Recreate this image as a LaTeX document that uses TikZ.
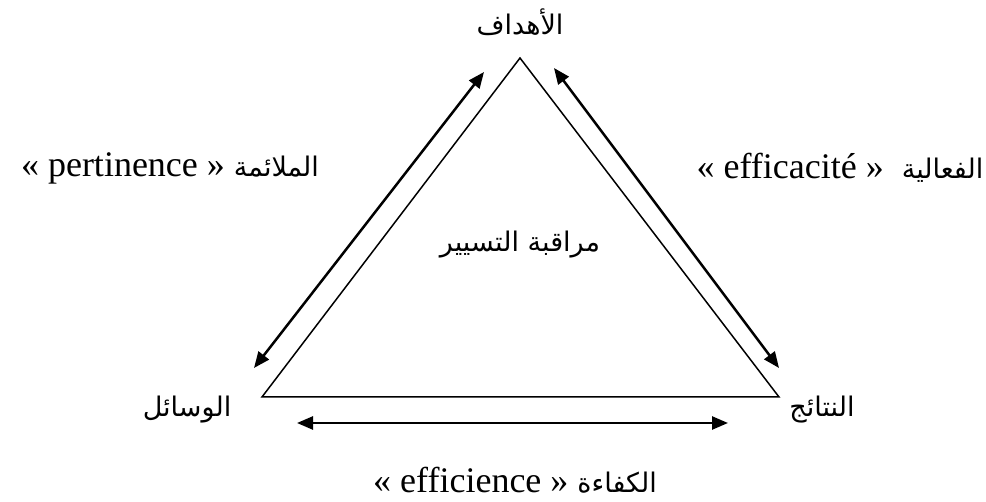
\documentclass[tikz,border=0pt]{standalone}
\usepackage{fontspec}
\setmainfont{Liberation Serif}
\newfontfamily\arabicfont[Script=Arabic]{DejaVu Sans}
\TeXXeTstate=1
\usetikzlibrary{arrows.meta,positioning,calc}
\tikzset{
	lado/.style = {
		draw, 
		line width=1.5pt, 
		line join=miter
	},
	signal/.style = {
		<->, 
		>={Triangle[length=16pt,width=13pt]}, 
		line width=2.5pt
	},
	texto/.style = {
		font=\fontsize{36}{40}\selectfont, 
		inner sep=0pt
	},
	arabe/.style = {
		font=\fontsize{27}{32}\selectfont\arabicfont, 
		inner sep=0pt
	}
}

\begin{document}
\begin{tikzpicture}[x=1pt,y=-1pt]
		
		% Marco fijo (tamaño de la imagen)
		\useasboundingbox (0,0) rectangle (986,502);
		
		% --- Definición de VÉRTICES ---
		\coordinate (top) at (520,58);
		\coordinate (left) at (262,397);
		\coordinate (right) at (779,397);
		
		% Extremos de las flechas
		\coordinate (l1) at (254,368);
		\coordinate (l2) at (484,72);
		\coordinate (r1) at (554,68);
		\coordinate (r2) at (779,368);
		\coordinate (b1) at (297,423);
		\coordinate (b2) at (728,423);
		
		% --- TRIÁNGULO ---
		\draw [lado] (top) -- (left) -- (right) -- cycle;
		
		% --- FLECHAS ---
		\draw [signal] (l1) -- (l2);
		\draw [signal] (r1) -- (r2);
		\draw [signal] (b1) -- (b2);
		
		% --- TEXTOS ---
		\node [arabe] (goals) at (520,22) {\beginR الأهداف\endR};
		\node [arabe] (means) at (187,410) {\beginR الوسائل\endR};
		\node [arabe] (results) at (822,410) {\beginR النتائج\endR};
		\node [arabe] (control) at (520,245) {\beginR مراقبة التسيير\endR};
		
		\node [texto] (pert) at (170,168) {« pertinence » {\fontsize{27}{32}\arabicfont\beginR الملائمة\endR}};
		\node [texto] (effic) at (840,168) {« efficacité » \ {\fontsize{27}{32}\arabicfont\beginR الفعالية\endR}};
		\node [texto] (effin) at (515,480) {« efficience » {\fontsize{27}{32}\arabicfont\beginR الكفاءة\endR}};
		
	\end{tikzpicture}
\end{document}
